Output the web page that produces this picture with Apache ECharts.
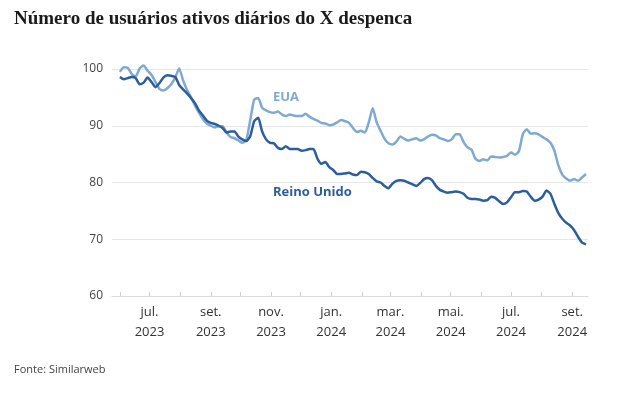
<!DOCTYPE html>
<html>
<head>
<meta charset="utf-8">
<script src="https://cdn.jsdelivr.net/npm/echarts@6/dist/echarts.min.js"></script>
<style>
  html, body { margin: 0; padding: 0; background: #fff; }
  #chart { width: 640px; height: 397px; }
</style>
</head>
<body>
<div id="chart"></div>
<script>
// samples every 4 days from 1 jun 2023
const startDate = [2023, 5, 1];
const stepDays = 4;

const euaValues = [
  99.5, 100.3, 100.2, 99.1, 98.7, 100.1, 100.6, 99.7, 99.0, 97.7,
  96.5, 96.2, 96.6, 97.3, 98.5, 100.1, 98.0, 96.3, 95.0, 93.6,
  92.3, 91.2, 90.4, 90.0, 89.7, 89.9, 89.9, 88.8, 88.0, 87.8,
  87.4, 87.0, 87.5, 91.0, 94.6, 94.9, 93.2, 92.7, 92.4, 92.3,
  92.5, 92.0, 91.7, 92.0, 91.8, 91.7, 91.7, 92.1, 91.6, 91.2,
  90.9, 90.5, 90.4, 90.1, 90.2, 90.6, 91.0, 90.8, 90.5, 89.6,
  88.9, 89.1, 88.8, 90.6, 93.1, 90.6, 89.1, 87.7, 86.9, 86.7,
  87.2, 88.1, 87.7, 87.4, 87.6, 87.8, 87.4, 87.6, 88.1, 88.4,
  88.3, 87.8, 87.6, 87.3, 87.6, 88.5, 88.5, 87.1, 86.2, 85.8,
  84.2, 83.8, 84.1, 83.9, 84.6, 84.5, 84.4, 84.5, 84.7, 85.3,
  84.9, 85.5, 88.5, 89.4, 88.6, 88.7, 88.5, 88.0, 87.6, 87.0,
  85.6, 83.0, 81.4, 80.7, 80.3, 80.6, 80.3, 80.9, 81.5
];

const ukValues = [
  98.6, 98.2, 98.4, 98.6, 98.4, 97.3, 97.6, 98.5, 97.7, 96.8,
  97.5, 98.5, 98.9, 98.8, 98.6, 97.2, 96.4, 95.7, 94.9, 94.0,
  92.7, 91.8, 90.9, 90.5, 90.3, 90.0, 89.6, 88.8, 89.0, 89.0,
  88.1, 87.6, 87.3, 88.2, 90.8, 91.4, 89.0, 87.6, 87.0, 86.9,
  86.1, 85.9, 86.4, 85.9, 85.9, 85.9, 85.6, 85.7, 85.9, 85.9,
  84.2, 83.3, 83.6, 82.7, 82.2, 81.5, 81.5, 81.6, 81.7, 81.4,
  81.3, 81.9, 81.8, 81.5, 80.8, 80.2, 80.0, 79.4, 79.0, 79.8,
  80.3, 80.4, 80.3, 80.0, 79.7, 79.4, 79.9, 80.6, 80.8, 80.4,
  79.4, 78.7, 78.4, 78.2, 78.3, 78.4, 78.3, 78.0, 77.3, 77.1,
  77.1, 77.0, 76.8, 76.9, 77.5, 77.3, 76.7, 76.2, 76.5, 77.4,
  78.3, 78.3, 78.5, 78.4, 77.5, 76.8, 77.0, 77.5, 78.6, 78.0,
  76.2, 74.6, 73.6, 72.9, 72.4, 71.6, 70.4, 69.4, 69.1
];

const monthNames = ['jan.', 'fev.', 'mar.', 'abr.', 'mai.', 'jun.',
  'jul.', 'ago.', 'set.', 'out.', 'nov.', 'dez.'];

const dates = ukValues.map((v, i) =>
  new Date(startDate[0], startDate[1], startDate[2] + i * stepDays).getTime());

const euaColor = '#80a9d1';
const ukColor = '#2b5e9b';
const DAY = 86400000;

const chart = echarts.init(document.getElementById('chart'));

chart.setOption({
  animation: false,
  grid: { left: 112, right: 52, top: 69, bottom: 101 },
  xAxis: {
    type: 'time',
    min: new Date(2023, 4, 24).getTime(),
    max: new Date(2024, 8, 17).getTime(),
    minInterval: 28 * DAY,
    maxInterval: 31 * DAY,
    splitNumber: 16,
    axisLine: { lineStyle: { color: '#dcdcdc', width: 1 } },
    axisTick: { show: true, inside: true, length: 4, interval: 0, lineStyle: { color: '#cfcfcf' } },
    splitLine: { show: false },
    axisLabel: {
      interval: 0,
      showMinLabel: false,
      showMaxLabel: false,
      margin: 6,
      color: '#333',
      fontFamily: 'Open Sans',
      fontSize: 13,
      lineHeight: 20,
      formatter: (val) => {
        const d = new Date(val);
        if (d.getDate() !== 1 || d.getMonth() % 2 !== 0) return '';
        return monthNames[d.getMonth()] + '\n' + d.getFullYear();
      }
    }
  },
  yAxis: {
    type: 'value',
    min: 60,
    max: 100,
    interval: 10,
    axisLine: { show: false },
    axisTick: { show: false },
    splitLine: { lineStyle: { color: '#e6e6e6', width: 1 } },
    axisLabel: { color: '#444', fontFamily: 'Open Sans', fontSize: 12, margin: 9 }
  },
  series: [
    {
      name: 'EUA',
      type: 'line',
      clip: false,
      showSymbol: false,
      smooth: 0.2,
      data: dates.map((d, i) => [d, euaValues[i]]),
      lineStyle: { color: euaColor, width: 2.5 },
      itemStyle: { color: euaColor }
    },
    {
      name: 'Reino Unido',
      type: 'line',
      clip: false,
      showSymbol: false,
      smooth: 0.2,
      data: dates.map((d, i) => [d, ukValues[i]]),
      lineStyle: { color: ukColor, width: 2.5 },
      itemStyle: { color: ukColor }
    }
  ],
  graphic: [
    {
      type: 'text', left: 14, top: 10,
      style: {
        text: 'Número de usuários ativos diários do X despenca',
        fill: '#1a1a1a', font: 'bold 19px "Liberation Serif", serif'
      }
    },
    {
      type: 'text', left: 273, top: 91,
      style: { text: 'EUA', fill: euaColor, font: 'bold 13px "Open Sans", sans-serif' }
    },
    {
      type: 'text', left: 273, top: 186,
      style: { text: 'Reino Unido', fill: ukColor, font: 'bold 13px "Open Sans", sans-serif' }
    },
    {
      type: 'text', left: 14, top: 364,
      style: { text: 'Fonte: Similarweb', fill: '#444', font: '11px "Open Sans", sans-serif' }
    }
  ]
});
</script>
</body>
</html>
